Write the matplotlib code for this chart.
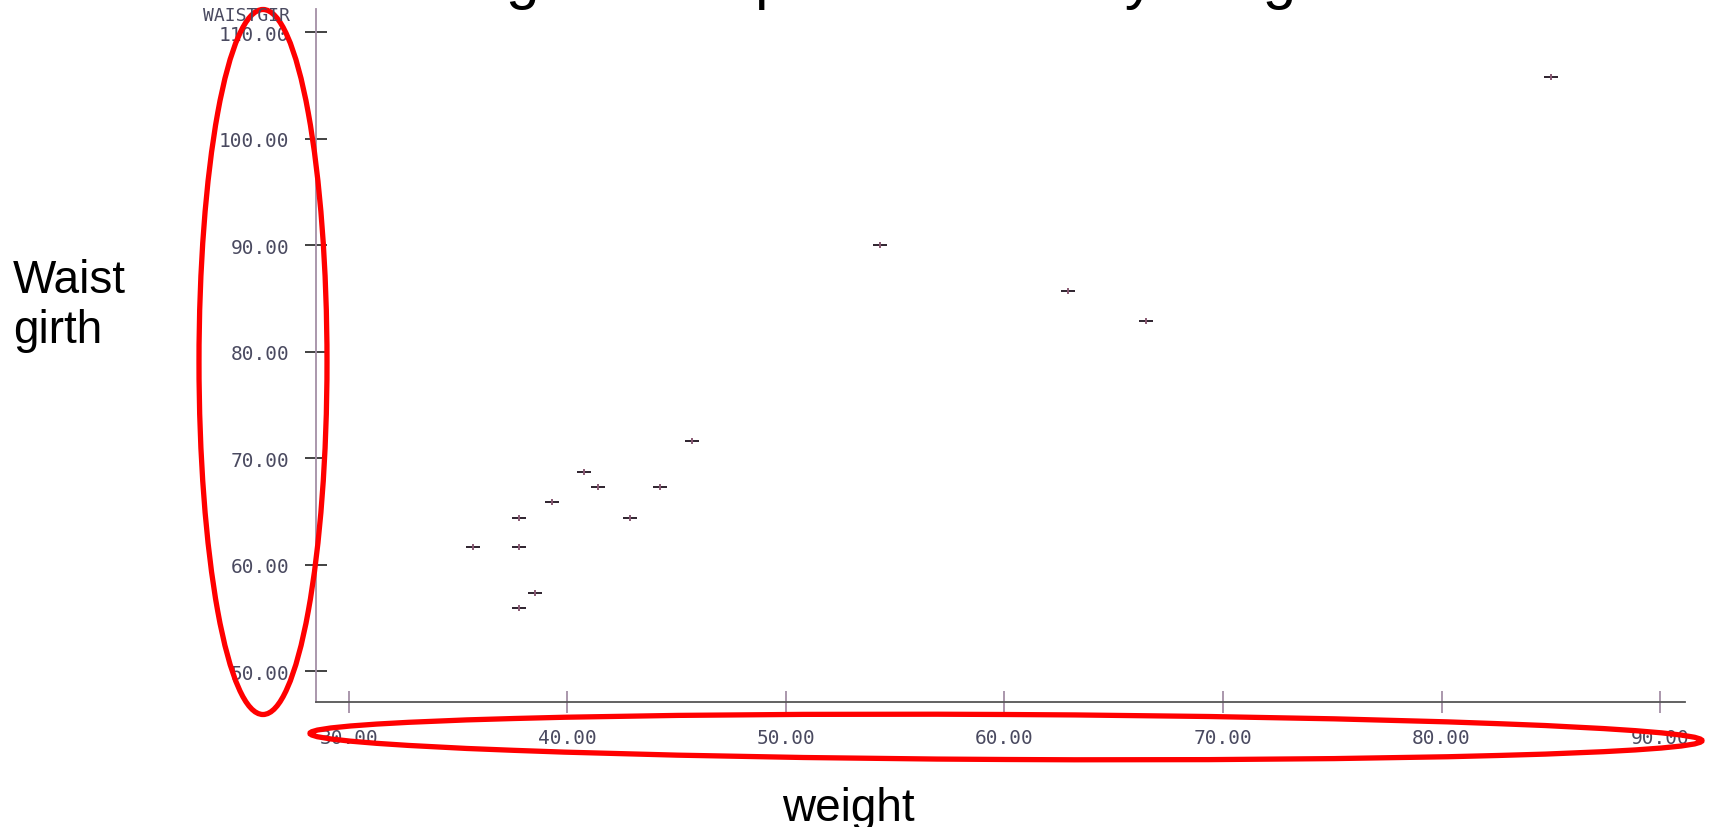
#!/usr/bin/env python3
import numpy as np
import matplotlib
matplotlib.use('Agg')
import matplotlib.pyplot as plt
from matplotlib.patches import Ellipse

# data
weight = [85.0, 54.3, 62.9, 66.5, 45.7, 40.75, 41.4, 44.25, 39.3, 37.8, 42.85, 35.7, 37.8, 38.5, 37.8]
waist = [105.8, 90.0, 85.7, 82.9, 71.6, 68.7, 67.3, 67.3, 65.9, 64.4, 64.4, 61.6, 61.6, 57.3, 55.9]
x_ticks = [30, 40, 50, 60, 70, 80, 90]
y_ticks = [50, 60, 70, 80, 90, 100, 110]

W, H = 1711, 828
fig = plt.figure(figsize=(W / 100, H / 100), dpi=100)

# main scatter axes
ax = fig.add_axes([316 / W, (H - 703) / H, (1685 - 316) / W, (703 - 10) / H])
ax.set_xlim(28.5, 91.14)
ax.set_ylim(47.09, 112.16)

# '+' marks, wide and flat like the original
ax.scatter(weight, waist, marker='_', s=90, color='#2e222e', linewidths=1.4)
ax.scatter(weight, waist, marker='|', s=22, color='#8a5a74', linewidths=1.4)

for s in ['top', 'right']:
    ax.spines[s].set_visible(False)
ax.spines['left'].set_color('#a48fa6')
ax.spines['bottom'].set_color('#555555')
ax.spines['left'].set_linewidth(1.3)
ax.spines['bottom'].set_linewidth(1.3)

ax.set_xticks(x_ticks)
ax.set_yticks(y_ticks)
ax.set_xticklabels([f'{v:.2f}' for v in x_ticks])
ax.set_yticklabels([f'{v:.2f}' for v in y_ticks])
ax.tick_params(axis='x', direction='inout', length=16, width=1.3, color='#a48fa6', pad=11)
ax.tick_params(axis='y', direction='inout', length=16, width=1.3, color='#333333', pad=11)
for lab in ax.get_xticklabels() + ax.get_yticklabels():
    lab.set_family('DejaVu Sans Mono')
    lab.set_fontsize(14)
    lab.set_color('#4a4a60')

# overlay in pixel coordinates for the annotations
ov = fig.add_axes([0, 0, 1, 1], zorder=5)
ov.set_xlim(0, W)
ov.set_ylim(H, 0)
ov.axis('off')

ov.text(290, 16, 'WAISTGIR', ha='right', va='center', family='DejaVu Sans Mono',
        fontsize=13, color='#4a4a60')

ov.text(866, -3, 'Using scatter plot of waist by weight', ha='center', va='baseline',
        family='Liberation Sans', fontsize=43.6, color='black', clip_on=False)
ov.text(13, 259, 'Waist\ngirth', ha='left', va='top', family='Liberation Sans',
        fontsize=33, linespacing=1.17, color='black')
ov.text(848, 821, 'weight', ha='center', va='baseline', family='Liberation Sans',
        fontsize=33, color='black')

ov.add_patch(Ellipse((263, 363), 128, 705, fill=False, edgecolor='#ff0000', linewidth=3.8))
ov.add_patch(Ellipse((1006, 738), 1392, 45, angle=0.3, fill=False, edgecolor='#ff0000',
                     linewidth=3.8))

plt.savefig('out.png', dpi=100)
